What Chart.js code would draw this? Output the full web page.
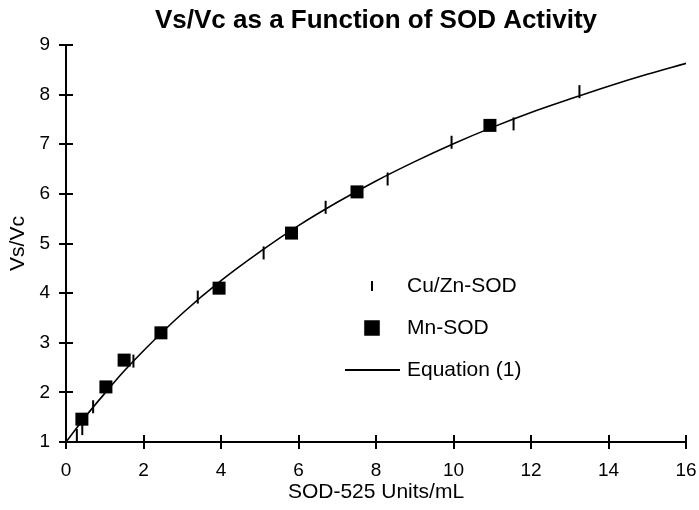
<!DOCTYPE html>
<html><head><meta charset="utf-8">
<script src="https://cdn.jsdelivr.net/npm/chart.js@4.4.1/dist/chart.umd.min.js"></script>
<style>html,body{margin:0;padding:0;background:#fff}canvas{display:block}</style>
</head><body>
<div style="width:699px;height:510px"><canvas id="c" width="699" height="510"></canvas></div>
<script>
// ---- data ----
const chartTitle = 'Vs/Vc as a Function of SOD Activity';
const xAxisTitle = 'SOD-525 Units/mL';
const yAxisTitle = 'Vs/Vc';
const xTickValues = [0, 2, 4, 6, 8, 10, 12, 14, 16];
const yTickValues = [1, 2, 3, 4, 5, 6, 7, 8, 9];
const seriesNames = ['Cu/Zn-SOD', 'Mn-SOD', 'Equation (1)'];

const cuznX = [0.28, 0.42, 0.70, 1.74, 3.40, 5.10, 6.70, 8.30, 9.95, 11.55, 13.25];
const cuznY = [1.13, 1.27, 1.71, 2.63, 3.92, 4.81, 5.73, 6.30, 7.04, 7.41, 8.06];

const mnX = [0.41, 1.03, 1.50, 2.45, 3.95, 5.82, 7.51, 10.94];
const mnY = [1.46, 2.11, 2.65, 3.20, 4.10, 5.21, 6.04, 7.38];

const eqX = [0, 0.5, 1, 1.5, 2, 3, 4, 5, 6, 7, 8, 9, 10, 11, 12, 13, 14, 15, 16];
const eqY = [1.00, 1.51, 1.98, 2.43, 2.84, 3.59, 4.25, 4.83, 5.36, 5.83, 6.26, 6.65, 7.01, 7.34, 7.64, 7.91, 8.17, 8.41, 8.63];

const toPts = (xs, ys) => xs.map((x, i) => ({ x: x, y: ys[i] }));
const FONT = '"Liberation Sans", Arial, sans-serif';

// inward half of the crossing tick marks
const crossTicks = {
  id: 'crossTicks',
  afterDraw(chart) {
    const ctx = chart.ctx, xs = chart.scales.x, ys = chart.scales.y;
    const len = 7;
    ctx.save();
    ctx.strokeStyle = '#000';
    ctx.lineWidth = 2;
    ctx.beginPath();
    xs.ticks.forEach((t, i) => {
      const px = Math.round(xs.getPixelForTick(i));
      ctx.moveTo(px, ys.bottom);
      ctx.lineTo(px, ys.bottom - len);
    });
    ys.ticks.forEach((t, i) => {
      const py = Math.round(ys.getPixelForTick(i));
      ctx.moveTo(xs.left, py);
      ctx.lineTo(xs.left + len, py);
    });
    ctx.stroke();
    ctx.restore();
  }
};

// legend drawn inside the plot area
const innerLegend = {
  id: 'innerLegend',
  afterDraw(chart) {
    const ctx = chart.ctx, a = chart.chartArea;
    const symX = a.left + 306, textX = a.left + 341;
    const rows = [a.top + 241, a.top + 283, a.top + 325];
    ctx.save();
    ctx.font = '21px ' + FONT;
    ctx.textBaseline = 'middle';
    ctx.textAlign = 'left';
    chart.data.datasets.forEach((ds, i) => {
      const y = rows[i];
      ctx.fillStyle = '#000';
      ctx.strokeStyle = '#000';
      if (ds.showLine === false) {
        ctx.lineWidth = 2;
        Chart.helpers.drawPoint(ctx, {
          pointStyle: ds.pointStyle,
          rotation: ds.rotation || 0,
          radius: i === 0 ? 5 : 9.6,
          borderWidth: 2
        }, symX, y);
      } else {
        ctx.beginPath();
        ctx.lineWidth = 2;
        ctx.moveTo(symX - 27, y);
        ctx.lineTo(symX + 28, y);
        ctx.stroke();
      }
      ctx.fillStyle = '#000';
      ctx.fillText(ds.label, textX, y);
    });
    ctx.restore();
  }
};

new Chart(document.getElementById('c'), {
  type: 'scatter',
  data: {
    datasets: [
      {
        label: seriesNames[0],
        data: toPts(cuznX, cuznY),
        showLine: false,
        pointStyle: 'line',
        rotation: 90,
        pointRadius: 6.5,
        borderWidth: 2,
        borderColor: '#000',
        backgroundColor: '#000'
      },
      {
        label: seriesNames[1],
        data: toPts(mnX, mnY),
        showLine: false,
        pointStyle: 'rect',
        pointRadius: 9.2,
        borderWidth: 0,
        borderColor: '#000',
        backgroundColor: '#000'
      },
      {
        label: seriesNames[2],
        data: toPts(eqX, eqY),
        showLine: true,
        pointRadius: 0,
        borderWidth: 1.6,
        borderColor: '#000',
        backgroundColor: '#000',
        cubicInterpolationMode: 'monotone'
      }
    ]
  },
  options: {
    responsive: false,
    animation: false,
    devicePixelRatio: 1,
    layout: { padding: { top: 0, left: 0, right: 13, bottom: 0 } },
    plugins: {
      legend: { display: false },
      tooltip: { enabled: false },
      title: {
        display: true,
        text: chartTitle,
        fullSize: false,
        color: '#000',
        font: { family: FONT, size: 26, weight: 'bold' },
        padding: { top: 5, bottom: 8.8 }
      }
    },
    scales: {
      x: {
        type: 'linear',
        min: xTickValues[0],
        max: xTickValues[xTickValues.length - 1],
        afterBuildTicks: s => { s.ticks = xTickValues.map(v => ({ value: v })); },
        afterFit: s => { s.height = 68; s.paddingRight = 0; },
        grid: { drawOnChartArea: false, tickLength: 7, color: '#000', lineWidth: 2 },
        border: { color: '#000', width: 2 },
        ticks: { color: '#000', font: { family: FONT, size: 19 }, padding: 10 },
        title: {
          display: true, text: xAxisTitle, color: '#000',
          font: { family: FONT, size: 21 }, padding: { top: 0, bottom: 5 }
        }
      },
      y: {
        type: 'linear',
        min: yTickValues[0],
        max: yTickValues[yTickValues.length - 1],
        afterBuildTicks: s => { s.ticks = yTickValues.map(v => ({ value: v })); },
        afterFit: s => { s.width = 66; },
        grid: { drawOnChartArea: false, tickLength: 7, color: '#000', lineWidth: 2 },
        border: { color: '#000', width: 2 },
        ticks: { color: '#000', font: { family: FONT, size: 19 }, padding: 9 },
        title: {
          display: true, text: yAxisTitle, color: '#000',
          font: { family: FONT, size: 21 }, padding: { top: 6, bottom: 0 }
        }
      }
    }
  },
  plugins: [crossTicks, innerLegend]
});
</script>
</body></html>
